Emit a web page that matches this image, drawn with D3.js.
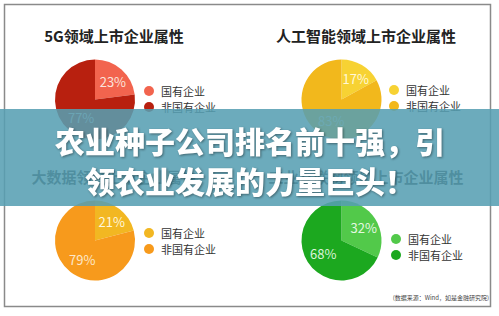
<!DOCTYPE html>
<html>
<head>
<meta charset="utf-8">
<script src="https://cdn.jsdelivr.net/npm/d3@7"></script>
<style>
  body { margin: 0; background: #fff; }
  svg { display: block; font-family: "Noto Sans CJK SC", "Noto Sans", sans-serif; }
</style>
</head>
<body>
<div class="canvas"></div>
<script>
const dims = {width: 499, height: 316};

// chart data
const titles = ['5G领域上市企业属性', '人工智能领域上市企业属性', '大数据领域上市企业属性', '工业互联网领域上市企业属性'];
const categories = ['国有企业', '非国有企业'];
const stateShare = [23, 17, 21, 32];
const privateShare = [77, 83, 79, 68];
const palettes = [
  ['#f2644e', '#b8200f'],
  ['#f7d233', '#f2b81c'],
  ['#f2b722', '#f79a1c'],
  ['#52c94a', '#1ca81f']
];
const labelColors = [['#fbe3dc', '#f3c4bb'], ['#fff8d8', '#fde8b0'], ['#fff6dc', '#fde7c8'], ['#e4f8e0', '#dcf3da']];
const bannerLines = ['农业种子公司排名前十强，引', '领农业发展的力量巨头！'];
const source = '(数据来源：Wind，如是金融研究院)';

// layout of the 2x2 panels
const cols = d3.scaleOrdinal().domain([0, 1]).range([0, 250]);
const rows = d3.scaleOrdinal().domain([0, 1]).range([0, 141]);
const legendX = [149, 144, 149, 146];
const legendY = [91, 90, 92, 98];

const svg = d3.select('.canvas')
  .append('svg')
  .attr('width', dims.width)
  .attr('height', dims.height);

// frame
svg.append('rect')
  .attr('x', 4.5).attr('y', 4.5)
  .attr('width', 486).attr('height', 302)
  .attr('fill', '#fff')
  .attr('stroke', '#8a8a8a')
  .attr('stroke-width', 1.5);

const pie = d3.pie().sort(null).value(d => d);
const radius = 40;
const arc = d3.arc().innerRadius(0).outerRadius(radius);
const labelArc = d3.arc().innerRadius(radius * 0.6).outerRadius(radius * 0.6);

titles.forEach((title, i) => {
  const col = i % 2, row = Math.floor(i / 2);
  const g = svg.append('g')
    .attr('transform', `translate(${cols(col)}, ${rows(row)})`);

  g.append('text')
    .attr('x', col ? 116 : 114)
    .attr('y', 35)
    .attr('text-anchor', 'middle')
    .attr('dominant-baseline', 'central')
    .attr('font-size', 15)
    .attr('font-weight', 'bold')
    .attr('fill', '#222')
    .text(title);

  const cx = col ? 91.5 : 95;
  const cy = 99.5;
  const pg = g.append('g').attr('transform', `translate(${cx}, ${cy})`);
  const slices = pie([stateShare[i], privateShare[i]]);

  pg.selectAll('path')
    .data(slices)
    .enter()
    .append('path')
    .attr('d', arc)
    .attr('fill', (d, j) => palettes[i][j]);

  pg.selectAll('text')
    .data(slices)
    .enter()
    .append('text')
    .attr('transform', d => {
      const [x, y] = labelArc.centroid(d);
      return `translate(${x + 2}, ${y})`;
    })
    .attr('text-anchor', 'middle')
    .attr('dominant-baseline', 'central')
    .attr('font-size', 13)
    .attr('fill', (d, j) => labelColors[i][j])
    .text(d => d.data + '%');

  // legend
  const legend = g.selectAll('.legend')
    .data(categories)
    .enter()
    .append('g')
    .attr('transform', (d, j) => `translate(${legendX[i]}, ${legendY[i] + j * 16})`);

  legend.append('circle')
    .attr('r', 5)
    .attr('fill', (d, j) => palettes[i][j]);

  legend.append('text')
    .attr('x', 12)
    .attr('dominant-baseline', 'central')
    .attr('font-size', 11)
    .attr('fill', '#333')
    .text(d => d);
});

svg.append('text')
  .attr('x', 489)
  .attr('y', 297)
  .attr('text-anchor', 'end')
  .attr('dominant-baseline', 'central')
  .attr('font-size', 6)
  .attr('fill', '#444')
  .text(source);

// overlay banner
svg.append('rect')
  .attr('x', 0).attr('y', 109)
  .attr('width', dims.width).attr('height', 97)
  .attr('fill', 'rgba(86,158,178,0.87)');

svg.selectAll('.banner')
  .data(bannerLines)
  .enter()
  .append('text')
  .attr('x', 250)
  .attr('y', (d, i) => 140 + i * 40)
  .attr('text-anchor', 'middle')
  .attr('dominant-baseline', 'central')
  .attr('font-size', 30)
  .attr('font-weight', 900)
  .attr('fill', '#fff')
  .style('filter', 'drop-shadow(1px 1px 1px rgba(0,0,0,0.4))')
  .text(d => d);
</script>
</body>
</html>
